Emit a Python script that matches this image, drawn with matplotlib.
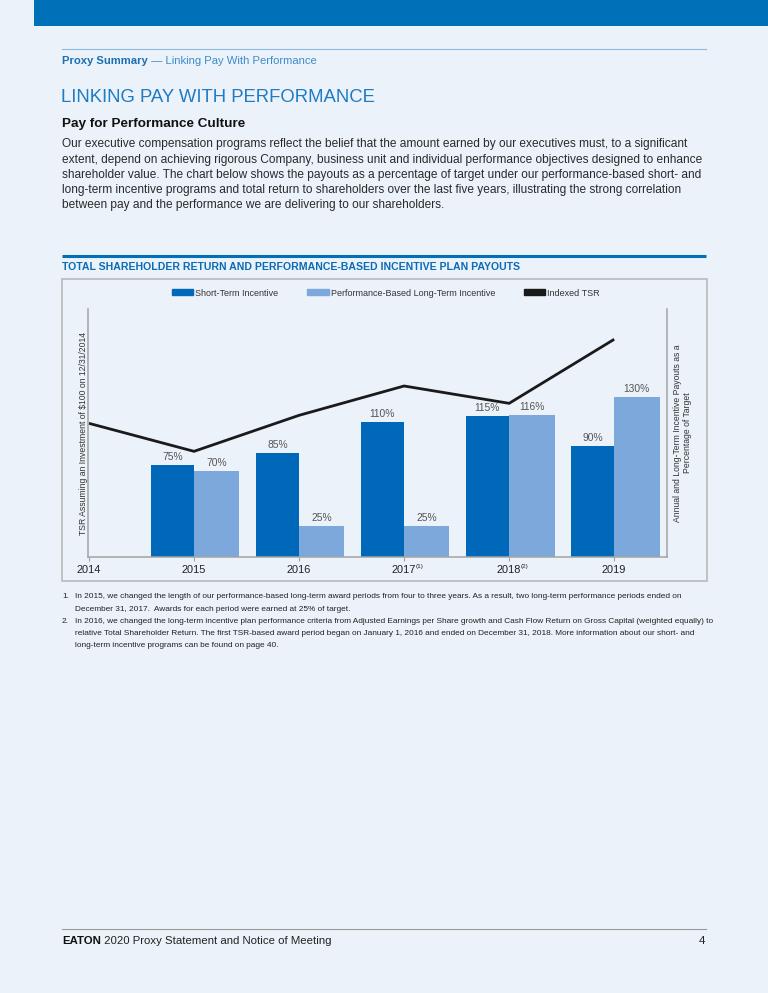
import numpy as np
import matplotlib as mpl
mpl.use('Agg')
import matplotlib.pyplot as plt
from matplotlib.patches import Patch, Rectangle

# data
years       = ['2014', '2015', '2016', '2017', '2018', '2019']
year_notes  = ['', '', '', '(1)', '(2)', '']
short_term  = [75, 85, 110, 115, 90]      # 2015-2019, % of target
long_term   = [70, 25, 25, 116, 130]      # 2015-2019, % of target
tsr         = [100, 79, 106, 128, 115, 163]

legend_labels = ['Short-Term Incentive', 'Performance-Based Long-Term Incentive', 'Indexed TSR']

body_lines = [
    'Our executive compensation programs reflect the belief that the amount earned by our executives must, to a significant',
    'extent, depend on achieving rigorous Company, business unit and individual performance objectives designed to enhance',
    'shareholder value. The chart below shows the payouts as a percentage of target under our performance-based short- and',
    'long-term incentive programs and total return to shareholders over the last five years, illustrating the strong correlation',
    'between pay and the performance we are delivering to our shareholders.',
]
notes = [
    ('1.', ['In 2015, we changed the length of our performance-based long-term award periods from four to three years. As a result, two long-term performance periods ended on',
            'December 31, 2017.  Awards for each period were earned at 25% of target.']),
    ('2.', ['In 2016, we changed the long-term incentive plan performance criteria from Adjusted Earnings per Share growth and Cash Flow Return on Gross Capital (weighted equally) to',
            'relative Total Shareholder Return. The first TSR-based award period began on January 1, 2016 and ended on December 31, 2018. More information about our short- and',
            'long-term incentive programs can be found on page 40.']),
]

# colours
bg       = '#ebf2f9'
eaton    = '#0071b9'
st_col   = '#0068b9'
lt_col   = '#7ca8db'
grey     = '#a3a3a3'
ink      = '#222222'

plt.rcParams['font.family'] = ['Liberation Sans', 'DejaVu Sans']

W, H = 768, 993
fig = plt.figure(figsize=(W / 100, H / 100), dpi=100, facecolor=bg)

# page layer in pixel coordinates
page = fig.add_axes([0, 0, 1, 1])
page.set_xlim(0, W)
page.set_ylim(H, 0)
page.axis('off')

page.add_patch(Rectangle((34, 0), W - 34, 26, color=eaton, lw=0))
page.plot([62, 706], [49.3, 49.3], color='#8dbbe0', lw=0.8)
t = page.text(62, 60.7, 'Proxy Summary', weight='bold', fontsize=8.1,
              color='#1a6fb5', va='center')
page.annotate(' \u2014 Linking Pay With Performance', xy=(1, 0), xycoords=t, va='bottom',
              fontsize=8.1, color='#3d8ccb')

page.text(61, 97.3, 'LINKING PAY WITH PERFORMANCE', fontsize=13.3, color='#1f7bc3', va='center')
page.text(62, 124.3, 'Pay for Performance Culture', fontsize=9.7, weight='bold', color='#111111',
          va='center')
for i, line in enumerate(body_lines):
    page.text(62, 144.5 + 15.1 * i, line, fontsize=8.6, color='#2a2a2a', va='center')

page.plot([62, 706], [255.7, 255.7], color=eaton, lw=2.2, solid_capstyle='butt')
page.text(62, 266.7, 'TOTAL SHAREHOLDER RETURN AND PERFORMANCE-BASED INCENTIVE PLAN PAYOUTS',
          fontsize=7.6, weight='bold', color='#0a6cb7', va='center')
page.add_patch(Rectangle((62.3, 279.3), 706.7 - 62.3, 581 - 279.3, fill=False,
                         edgecolor='#b4b4b4', lw=1.1))

y = 597
for num, lines in notes:
    page.text(62, y, num, fontsize=5.95, color=ink, va='center')
    for line in lines:
        page.text(75, y, line, fontsize=5.95, color=ink, va='center')
        y += 12.2

page.plot([62, 706], [929, 929], color='#9a9a9a', lw=0.8)
t = page.text(62, 940.7, 'EATON', weight='bold', fontsize=8.2, color='#111111', va='center')
page.annotate(' 2020 Proxy Statement and Notice of Meeting', xy=(1, 0), xycoords=t, va='bottom',
              fontsize=8.2, color=ink)
page.text(705, 940.7, '4', fontsize=8.2, color=ink, va='center', ha='right')

# chart
ax = fig.add_axes([87.7 / W, 1 - 556.7 / H, (666.7 - 87.7) / W, (556.7 - 309.3) / H])
ax2 = ax.twinx()
ax.set_zorder(ax2.get_zorder() + 1)
ax.patch.set_visible(False)

x = np.arange(len(years))
bars_st = ax2.bar(x[1:], short_term, width=-0.413, align='edge', color=st_col, lw=0)
bars_lt = ax2.bar(x[1:], long_term, width=0.432, align='edge', color=lt_col, lw=0)
for bars, vals in [(bars_st, short_term), (bars_lt, long_term)]:
    ax2.bar_label(bars, labels=[f'{v}%' for v in vals], padding=2.2, fontsize=7.4, color='#555555')

ax.plot(x, tsr, color='#1a1a1a', lw=2.0, solid_capstyle='butt', solid_joinstyle='miter')

ax.set_xlim(-0.012, 5.5)
ax.set_ylim(0, 185.5)
ax2.set_ylim(0, 202)
ax.set_yticks([])
ax2.set_yticks([])

ax.set_xticks(x)
ax.set_xticklabels(years)
ax.tick_params(axis='x', length=3.0, width=0.8, color=grey, pad=2.8, labelsize=7.9, labelcolor=ink)
for xi, note in zip(x, year_notes):
    if note:
        ax.annotate(note, xy=(xi, 0), xycoords=('data', 'axes fraction'), xytext=(8.0, -6.8),
                    textcoords='offset points', fontsize=4.6, color=ink, ha='left', va='center')

for side in ['left', 'right', 'bottom']:
    ax.spines[side].set_color(grey)
    ax.spines[side].set_linewidth(1.1)
ax.spines['top'].set_visible(False)
for side in ax2.spines:
    ax2.spines[side].set_visible(False)

ax.set_ylabel('TSR Assuming an Investment of $100 on 12/31/2014', fontsize=6.2, color='#333333')
ax.yaxis.label.set_va('center')
ax.yaxis.set_label_coords(-0.0076, 0.5)
ax2.set_ylabel('Annual and Long-Term Incentive Payouts as a\nPercentage of Target', fontsize=6.2,
               color='#333333', linespacing=1.25)
ax2.yaxis.label.set_va('center')
ax2.yaxis.set_label_coords(1.0273, 0.5)

handles = [Patch(color=st_col), Patch(color=lt_col), Patch(color='#1a1a1a')]
fig.legend(handles, legend_labels, loc='center', bbox_to_anchor=(386 / W, 1 - 293 / H), ncol=3,
           frameon=False, fontsize=6.5, handlelength=2.35, handleheight=0.6, handletextpad=0.22,
           columnspacing=3.2, borderpad=0, labelcolor='#333333')

fig.savefig('out.png', dpi=100, facecolor=bg)
plt.close(fig)
